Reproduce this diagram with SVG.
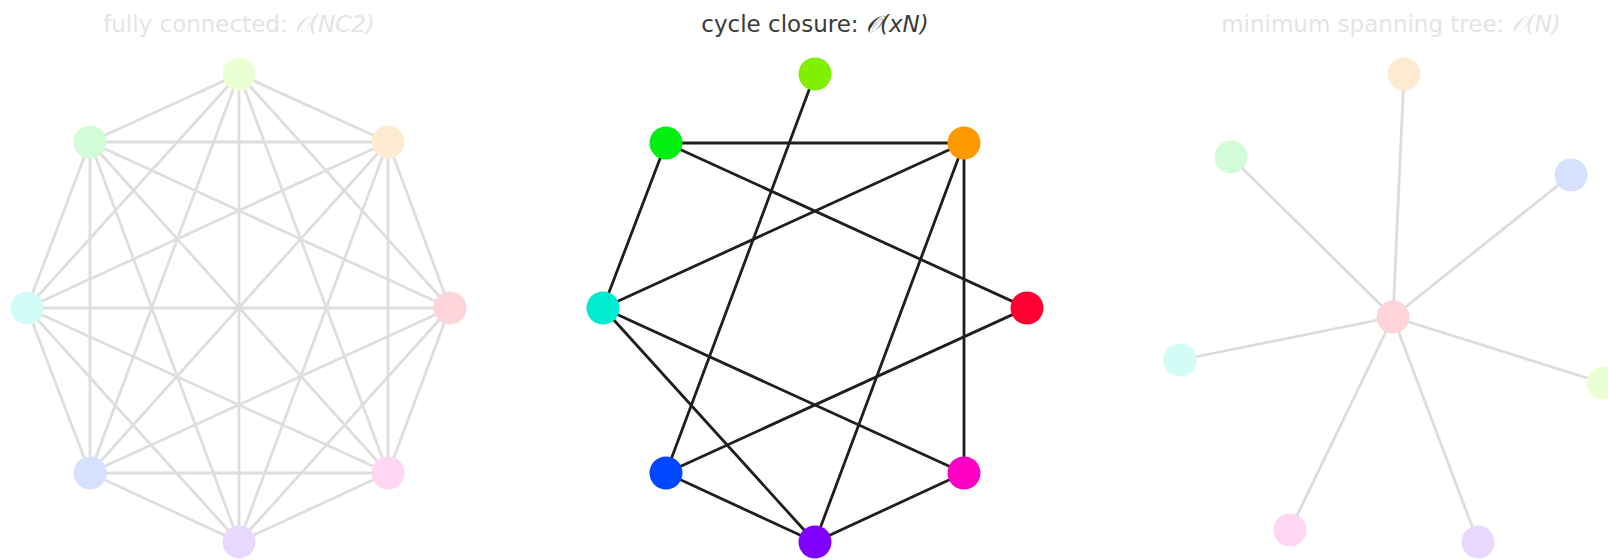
<svg xmlns="http://www.w3.org/2000/svg" width="1608" height="560" viewBox="0 0 1608 560">
<style>
  .title { font-family: "DejaVu Sans", "Liberation Sans", sans-serif; font-size: 23px; text-anchor: middle; }
  .faint { fill: #e4e4e4; }
  .dark { fill: #3a3a3a; }
  .math { font-style: italic; }
  .eL line { stroke: #dedede; stroke-width: 2.8; stroke-linecap: round; }
  .eM line { stroke: #1e1e1e; stroke-width: 2.8; stroke-linecap: round; }
  .eR line { stroke: #dcdcdc; stroke-width: 2.8; stroke-linecap: round; }
</style>
<rect x="0" y="0" width="1608" height="560" fill="#ffffff"/>

<g id="titles">
  <text class="title faint" x="239" y="32">fully connected: <tspan class="math">𝒪(NC2)</tspan></text>
  <text class="title dark" x="815" y="32">cycle closure: <tspan class="math">𝒪(xN)</tspan></text>
  <text class="title faint" x="1391" y="32">minimum spanning tree: <tspan class="math">𝒪(N)</tspan></text>
</g>

<g id="connectors">
  <g id="edges-full" class="eL">
    <line x1="239" y1="74" x2="90" y2="142"/>
    <line x1="239" y1="74" x2="388" y2="142"/>
    <line x1="239" y1="74" x2="27" y2="308"/>
    <line x1="239" y1="74" x2="450" y2="308"/>
    <line x1="239" y1="74" x2="90" y2="473"/>
    <line x1="239" y1="74" x2="388" y2="473"/>
    <line x1="239" y1="74" x2="239" y2="542"/>
    <line x1="90" y1="142" x2="388" y2="142"/>
    <line x1="90" y1="142" x2="27" y2="308"/>
    <line x1="90" y1="142" x2="450" y2="308"/>
    <line x1="90" y1="142" x2="90" y2="473"/>
    <line x1="90" y1="142" x2="388" y2="473"/>
    <line x1="90" y1="142" x2="239" y2="542"/>
    <line x1="388" y1="142" x2="27" y2="308"/>
    <line x1="388" y1="142" x2="450" y2="308"/>
    <line x1="388" y1="142" x2="90" y2="473"/>
    <line x1="388" y1="142" x2="388" y2="473"/>
    <line x1="388" y1="142" x2="239" y2="542"/>
    <line x1="27" y1="308" x2="450" y2="308"/>
    <line x1="27" y1="308" x2="90" y2="473"/>
    <line x1="27" y1="308" x2="388" y2="473"/>
    <line x1="27" y1="308" x2="239" y2="542"/>
    <line x1="450" y1="308" x2="90" y2="473"/>
    <line x1="450" y1="308" x2="388" y2="473"/>
    <line x1="450" y1="308" x2="239" y2="542"/>
    <line x1="90" y1="473" x2="388" y2="473"/>
    <line x1="90" y1="473" x2="239" y2="542"/>
    <line x1="388" y1="473" x2="239" y2="542"/>
  </g>
  <g id="edges-cycle" class="eM">
    <line x1="666" y1="143" x2="964" y2="143"/>
    <line x1="815" y1="74" x2="666" y2="473"/>
    <line x1="666" y1="143" x2="603" y2="308"/>
    <line x1="666" y1="143" x2="1027" y2="308"/>
    <line x1="964" y1="143" x2="603" y2="308"/>
    <line x1="964" y1="143" x2="815" y2="542"/>
    <line x1="964" y1="143" x2="964" y2="473"/>
    <line x1="603" y1="308" x2="964" y2="473"/>
    <line x1="603" y1="308" x2="815" y2="542"/>
    <line x1="1027" y1="308" x2="666" y2="473"/>
    <line x1="666" y1="473" x2="815" y2="542"/>
    <line x1="964" y1="473" x2="815" y2="542"/>
  </g>
  <g id="edges-mst" class="eR">
    <line x1="1393" y1="317" x2="1404" y2="74"/>
    <line x1="1393" y1="317" x2="1231" y2="157"/>
    <line x1="1393" y1="317" x2="1571" y2="175"/>
    <line x1="1393" y1="317" x2="1180" y2="360"/>
    <line x1="1393" y1="317" x2="1603" y2="383"/>
    <line x1="1393" y1="317" x2="1290" y2="530"/>
    <line x1="1393" y1="317" x2="1478" y2="542"/>
  </g>
</g>

<g id="nodes-full">
  <g id="full-lime"><circle cx="239" cy="74" r="16.5" fill="#eaffd4"/></g>
  <g id="full-green"><circle cx="90" cy="142" r="16.5" fill="#d2fcd8"/></g>
  <g id="full-orange"><circle cx="388" cy="142" r="16.5" fill="#ffebd2"/></g>
  <g id="full-cyan"><circle cx="27" cy="308" r="16.5" fill="#d2fcf6"/></g>
  <g id="full-red"><circle cx="450" cy="308" r="16.5" fill="#ffd4d8"/></g>
  <g id="full-blue"><circle cx="90" cy="473" r="16.5" fill="#d6e0ff"/></g>
  <g id="full-pink"><circle cx="388" cy="473" r="16.5" fill="#ffd6f4"/></g>
  <g id="full-purple"><circle cx="239" cy="542" r="16.5" fill="#e8d8ff"/></g>
</g>

<g id="nodes-cycle">
  <g id="cyc-lime"><circle cx="815" cy="74" r="16.5" fill="#80f000"/></g>
  <g id="cyc-green"><circle cx="666" cy="143" r="16.5" fill="#00ee10"/></g>
  <g id="cyc-orange"><circle cx="964" cy="143" r="16.5" fill="#ff9900"/></g>
  <g id="cyc-cyan"><circle cx="603" cy="308" r="16.5" fill="#00ecd0"/></g>
  <g id="cyc-red"><circle cx="1027" cy="308" r="16.5" fill="#ff0030"/></g>
  <g id="cyc-blue"><circle cx="666" cy="473" r="16.5" fill="#0048ff"/></g>
  <g id="cyc-magenta"><circle cx="964" cy="473" r="16.5" fill="#ff00c4"/></g>
  <g id="cyc-purple"><circle cx="815" cy="542" r="16.5" fill="#8000ff"/></g>
</g>

<g id="nodes-mst">
  <g id="mst-orange"><circle cx="1404" cy="74" r="16.5" fill="#ffebd2"/></g>
  <g id="mst-green"><circle cx="1231" cy="157" r="16.5" fill="#d2fcd8"/></g>
  <g id="mst-blue"><circle cx="1571" cy="175" r="16.5" fill="#d6e0ff"/></g>
  <g id="mst-red"><circle cx="1393" cy="317" r="16.5" fill="#ffd4d8"/></g>
  <g id="mst-cyan"><circle cx="1180" cy="360" r="16.5" fill="#d2fcf6"/></g>
  <g id="mst-lime"><circle cx="1603" cy="383" r="16.5" fill="#eaffd4"/></g>
  <g id="mst-pink"><circle cx="1290" cy="530" r="16.5" fill="#ffd6f4"/></g>
  <g id="mst-purple"><circle cx="1478" cy="542" r="16.5" fill="#e8d8ff"/></g>
</g>
</svg>
